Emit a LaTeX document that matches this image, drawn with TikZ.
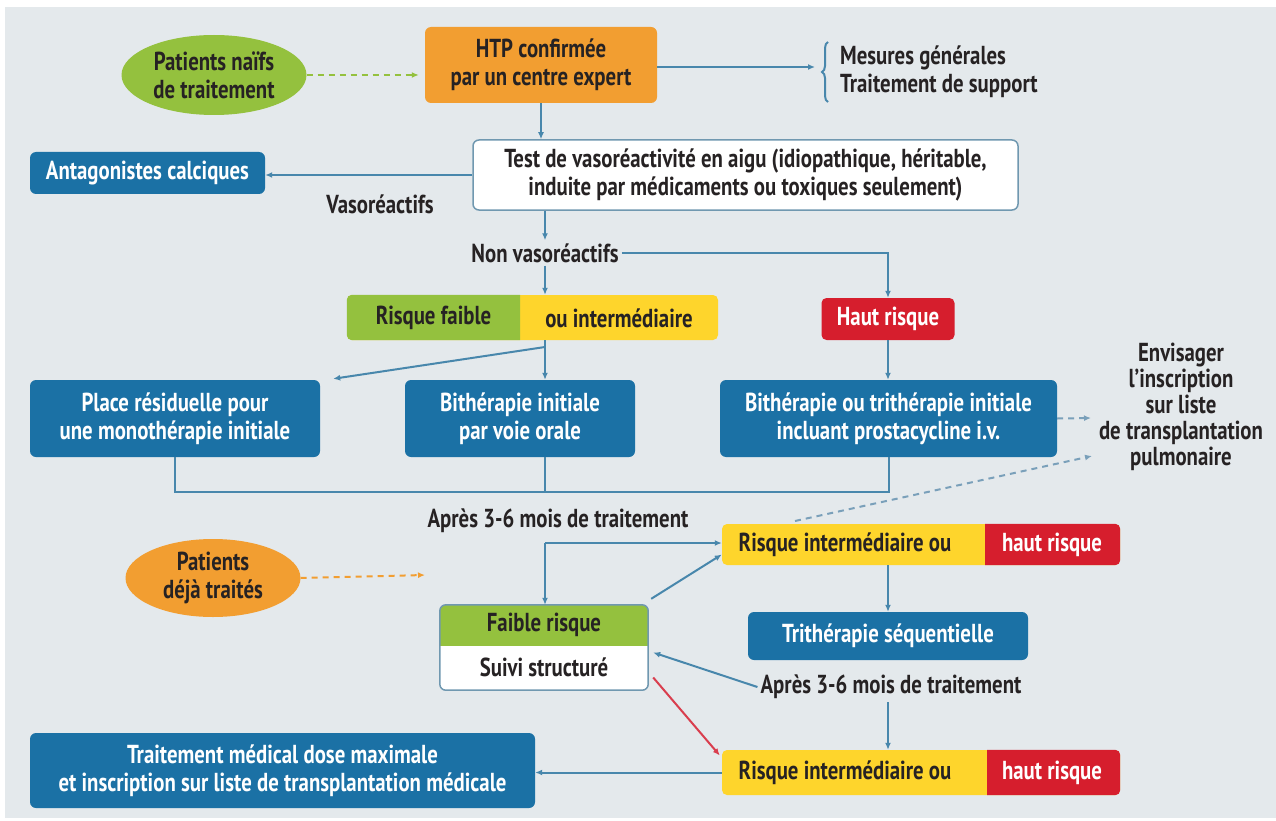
\documentclass[tikz,border=0pt]{standalone}
\usepackage{fontspec}
\setmainfont{PT Sans}[FakeStretch=0.8]
\usetikzlibrary{positioning,arrows.meta,shapes.geometric,decorations.pathreplacing}

\definecolor{bgcol}{RGB}{228,233,236}
\definecolor{boxblue}{RGB}{27,113,165}
\definecolor{linkblue}{RGB}{72,135,172}
\definecolor{dashblue}{RGB}{122,160,186}
\definecolor{frameblue}{RGB}{112,152,176}
\definecolor{riskgreen}{RGB}{148,193,62}
\definecolor{riskyellow}{RGB}{254,213,44}
\definecolor{riskred}{RGB}{214,30,45}
\definecolor{htporange}{RGB}{242,158,49}
\definecolor{textdark}{RGB}{38,34,35}
\definecolor{arrowred}{RGB}{217,62,78}
\newcommand{\boxfont}{\fontsize{26}{28}\selectfont\bfseries}

\tikzset{T node/.style={font=\boxfont,text=textdark,align=center,inner sep=3pt},
	B node/.style={rectangle,rounded corners=6pt,fill=boxblue,font=\boxfont,text=white,align=center,inner sep=0pt},
	P node/.style={ellipse,font=\boxfont,text=textdark,align=center,inner sep=0pt},
	R node/.style={rectangle,rounded corners=5pt,inner sep=0pt},
	link/.style={draw=linkblue,line width=2pt,-{Latex[length=7pt,width=6pt]}},
	plain link/.style={draw=linkblue,line width=2pt},
	dash link/.style={line width=2pt,dash pattern=on 6pt off 5pt,-{Latex[length=7pt,width=6pt]}},}

\begin{document}
\begin{tikzpicture}[x=1pt,y=-1pt]
			\useasboundingbox (0,0) rectangle (1276,821);
			\fill[bgcol] (5,7) rectangle (1276,818);

			% naive patients
			\node[P node, fill=riskgreen, minimum width=185pt, minimum height=80pt] (naifs) at (214,75) {Patients naïfs\\de traitement};
			\node[B node, fill=htporange, text=textdark, minimum width=232pt, minimum height=76pt] (htp) at (541,65) {HTP confirmée\\par un centre expert};
			\node[T node, align=left, anchor=west] (mesures) at (837,72) {Mesures générales\\Traitement de support};
			\coordinate (acc) at (815,67);
			\draw[linkblue, line width=2pt, decorate, decoration={brace,amplitude=6pt}] (828,102) -- (828,42);

			\node[R node, draw=frameblue, line width=1.5pt, fill=white, rounded corners=6pt, font=\boxfont, text=textdark, align=center, minimum width=545pt, minimum height=70pt] (test) at (745.5,175) {Test de vasoréactivité en aigu (idiopathique, héritable,\\induite par médicaments ou toxiques seulement)};
			\node[B node, minimum width=235pt, minimum height=42pt] (antag) at (147.5,173) {Antagonistes calciques};
			\node[T node] (vaso) at (380,204) {Vasoréactifs};
			\node[T node] (nonvaso) at (545,253) {Non vasoréactifs};

			\path[dash link, draw=riskgreen, shorten >=6pt] (naifs.east) -- (htp.west |- naifs.east);
			\path[link] (htp.east |- acc) -- (acc);
			\path[link] (htp.south) -- (htp.south |- test.north);
			\path[link] (test.west) -- (test.west -| antag.east);
			\path[link] (nonvaso.north |- test.south) -- (nonvaso.north);

			% risk levels
			\node[R node, fill=riskyellow, minimum width=371pt, minimum height=45pt] (bar1) at (532.5,317.5) {};
			\begin{scope}
				\clip (bar1.north west) rectangle (520,350);
				\fill[riskgreen, rounded corners=5pt] (bar1.north west) rectangle (bar1.south east);
			\end{scope}
			\node[T node] (rfaible) at (433.5,318) {Risque faible};
			\node[T node] (rinter) at (619,318) {ou intermédiaire};
			\node[R node, fill=riskred, minimum width=133pt, minimum height=42pt, font=\boxfont, text=white] (haut) at (888,319) {Haut risque};

			\path[link] (nonvaso.south) -- (nonvaso.south |- bar1.north);
			\path[link] (nonvaso.east) -| (haut.north);

			% initial treatment
			\node[B node, minimum width=290pt, minimum height=77pt] (place) at (175,418.5) {Place résiduelle pour\\une monothérapie initiale};
			\node[B node, minimum width=230pt, minimum height=77pt] (bithe) at (520,418.5) {Bithérapie initiale\\par voie orale};
			\node[B node, minimum width=337pt, minimum height=77pt] (trith) at (888.5,418.5) {Bithérapie ou trithérapie initiale\\incluant prostacycline i.v.};
			\node[T node, font=\fontsize{26}{26}\selectfont\bfseries] (envis) at (1181,407) {Envisager\\l’inscription\\sur liste\\de transplantation\\pulmonaire};

			\coordinate (fork) at (545,347);
			\coordinate (merge) at (0,492);
			\draw[plain link] (fork |- bar1.south) -- (fork);
			\path[link] (fork) -- ([shift={(13,-1)}]place.north east);
			\path[link] (fork) -- (fork |- bithe.north);
			\path[link] (haut.south) -- (haut.south |- trith.north);
			\path[dash link, draw=dashblue] (trith.east) -- (1091,418);
			\draw[plain link] (place.south) -- (place.south |- merge) -| (trith.south);
			\draw[plain link] (fork |- bithe.south) -- (fork |- merge);

			\node[T node] (apres1) at (558,521) {Après 3-6 mois de traitement};

			% treated patients
			\node[P node, fill=htporange, minimum width=175pt, minimum height=78pt] (dejatr) at (213,578) {Patients\\déjà traités};
			\coordinate (dejaend) at (425,575);
			\path[dash link, draw=htporange] (dejatr.east) -- (dejaend);

			\node[R node, fill=riskyellow, minimum width=398pt, minimum height=41pt] (risk2) at (921,544.5) {};
			\begin{scope}
				\clip (985,500) rectangle (1130,600);
				\fill[riskred, rounded corners=5pt] (risk2.north west) rectangle (risk2.south east);
			\end{scope}
			\node[T node] (inter2) at (845,545) {Risque intermédiaire ou};
			\node[T node, text=white] (haut2) at (1052,545) {haut risque};

			\node[R node, fill=white, minimum width=208pt, minimum height=85pt, rounded corners=6pt] (suivi) at (544,647.5) {};
			\begin{scope}
				\clip (suivi.north west) rectangle (700,645);
				\fill[riskgreen, rounded corners=6pt] (suivi.north west) rectangle (suivi.south east);
			\end{scope}
			\draw[frameblue, line width=1.5pt, rounded corners=6pt] (suivi.north west) rectangle (suivi.south east);
			\node[T node] (faible) at (544,625) {Faible risque};
			\node[T node] (suivit) at (544,667) {Suivi structuré};

			\node[B node, minimum width=280pt, minimum height=48pt] (trisq) at (888,636) {Trithérapie séquentielle};
			\node[T node] (apres2) at (891,687) {Après 3-6 mois de traitement};

			\node[R node, fill=riskyellow, minimum width=398pt, minimum height=45pt] (risk3) at (921,772.5) {};
			\begin{scope}
				\clip (987,700) rectangle (1130,820);
				\fill[riskred, rounded corners=5pt] (risk3.north west) rectangle (risk3.south east);
			\end{scope}
			\node[T node] (inter3) at (845,773) {Risque intermédiaire ou};
			\node[T node, text=white] (haut3) at (1052,773) {haut risque};

			\node[B node, minimum width=505pt, minimum height=75pt] (traitmax) at (282.5,770.5) {Traitement médical dose maximale\\et inscription sur liste de transplantation médicale};

			\coordinate (turn) at (545,543);
			\coordinate (upstart) at (795,521);
			\coordinate (upend) at (1092,456);
			\path[link] (turn) -- (turn |- suivi.north);
			\path[link] (turn) -- (turn -| risk2.west);
			\path[link] ([shift={(3,-6)}]suivi.north east) -- ([shift={(0,10)}]risk2.west);
			\path[dash link, draw=dashblue] (upstart) -- (upend);
			\path[link] (trisq.north |- risk2.south) -- (trisq.north);
			\path[link] (trisq.south |- apres2.south) -- (trisq.south |- risk3.north);
			\path[link] (apres2.west) -- ([shift={(5,5)}]suivi.east);
			\path[link, draw=arrowred] ([shift={(5,30)}]suivi.east) -- ([shift={(-2,-17)}]risk3.west);
			\path[link] (risk3.west) -- (risk3.west -| traitmax.east);
		\end{tikzpicture}
\end{document}
